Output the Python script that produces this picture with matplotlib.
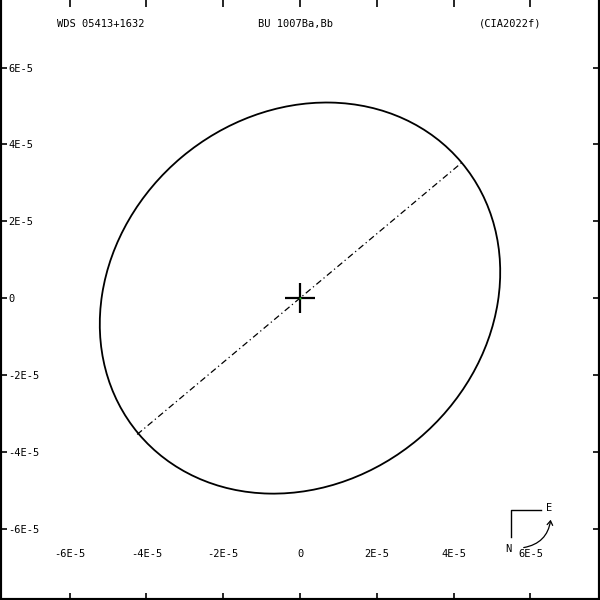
import numpy as np
import matplotlib
matplotlib.use('Agg')
import matplotlib.pyplot as plt
from matplotlib.patches import Ellipse, FancyArrowPatch

# apparent orbit (arcsec)
orbit_center = (0.0, 0.0)
semi_major = 5.49e-5
semi_minor = 4.79e-5
orbit_angle = 40.0  # degrees, counter-clockwise from +x

# line of nodes end points
node_x = [-4.24e-5, 4.24e-5]
node_y = [-3.55e-5, 3.55e-5]

tick_vals = [-6e-5, -4e-5, -2e-5, 0, 2e-5, 4e-5, 6e-5]
tick_labels = ['-6E-5', '-4E-5', '-2E-5', '0', '2E-5', '4E-5', '6E-5']

titles = ['WDS 05413+1632', 'BU 1007Ba,Bb', '(CIA2022f)']
title_x = [0.168, 0.492, 0.85]

mono = 'DejaVu Sans Mono'

fig = plt.figure(figsize=(6, 6), dpi=100)
ax = fig.add_axes([0, 0, 1, 1])
ax.set_xlim(-7.81e-5, 7.81e-5)
ax.set_ylim(-7.86e-5, 7.76e-5)

orbit = Ellipse(orbit_center, 2 * semi_major, 2 * semi_minor, angle=orbit_angle,
                fill=False, edgecolor='black', linewidth=1.3)
ax.add_patch(orbit)
ax.plot(node_x, node_y, color='black', linewidth=0.9, dashes=(5, 2.5, 1, 2.5))

# primary star
ax.plot([0], [0], marker='+', markersize=22, markeredgewidth=1.6, color='black')
ax.plot([0], [0], marker='o', markersize=1.5, color='#22bb22', markeredgewidth=0)

ax.set_xticks(tick_vals)
ax.set_xticklabels(tick_labels)
ax.set_yticks(tick_vals)
ax.set_yticklabels(tick_labels)
ax.tick_params(axis='both', direction='in', length=5, width=1.2, labelsize=7.5,
               top=True, right=True, labeltop=False, labelright=False)
ax.tick_params(axis='x', pad=-36.5)
ax.tick_params(axis='y', pad=-6)
for lab in ax.get_yticklabels():
    lab.set_horizontalalignment('left')
    lab.set_fontfamily(mono)
for lab in ax.get_xticklabels():
    lab.set_fontfamily(mono)

for side in ['left', 'right', 'bottom']:
    ax.spines[side].set_linewidth(3)
ax.spines['top'].set_visible(False)

for t, x in zip(titles, title_x):
    ax.text(x, 0.96, t, transform=ax.transAxes, ha='center', va='center',
            fontsize=7.5, family=mono)

# compass
tr = ax.transAxes
ax.plot([511 / 600, 511 / 600, 541 / 600], [1 - 537 / 600, 1 - 510 / 600, 1 - 510 / 600],
        color='black', linewidth=1, transform=tr)
ax.text(549 / 600, 1 - 508 / 600, 'E', transform=tr, ha='center', va='center',
        fontsize=7.5, family=mono)
ax.text(508 / 600, 1 - 549 / 600, 'N', transform=tr, ha='center', va='center',
        fontsize=7.5, family=mono)
arrow = FancyArrowPatch((521 / 600, 1 - 548 / 600), (551 / 600, 1 - 517 / 600),
                        connectionstyle='arc3,rad=0.4', arrowstyle='->,head_length=3,head_width=2',
                        color='black', linewidth=0.9, transform=tr)
ax.add_patch(arrow)

fig.savefig('out.png', dpi=100)
